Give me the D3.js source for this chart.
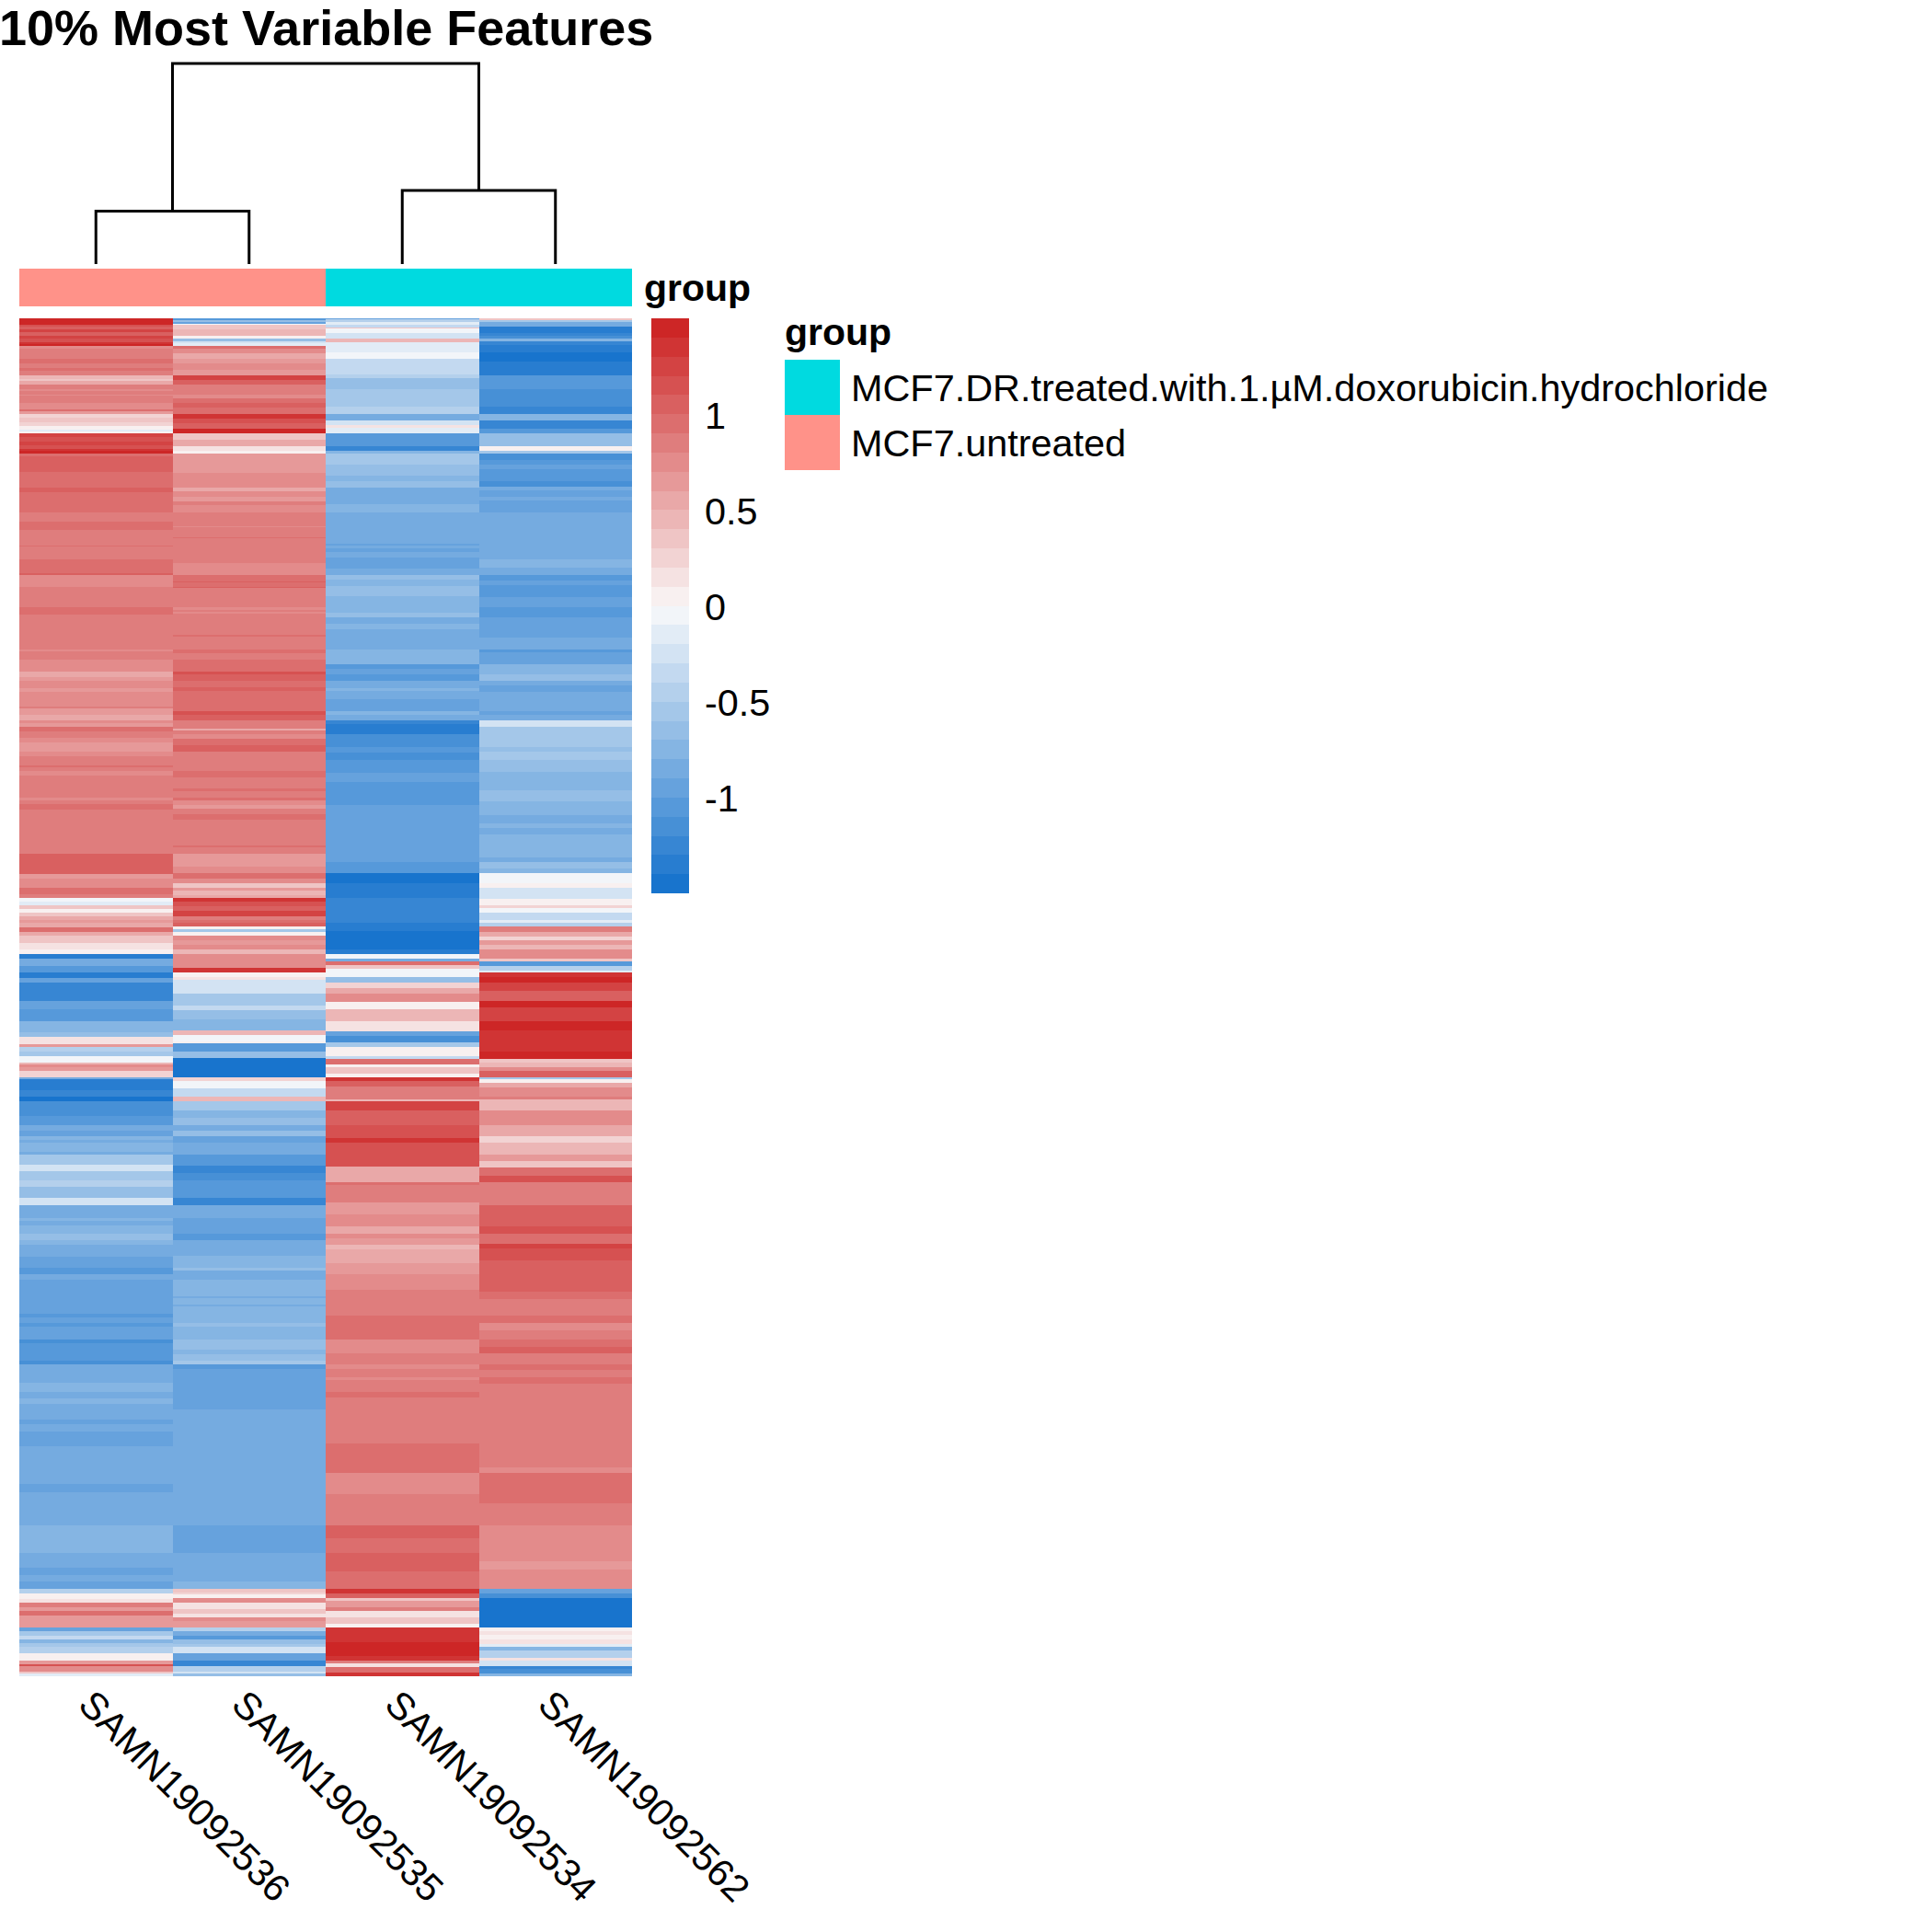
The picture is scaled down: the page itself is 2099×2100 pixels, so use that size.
<!DOCTYPE html>
<html lang="en">

<head>
    <meta charset="UTF-8" />
    <title>10% Most Variable Features</title>
    <script src="https://d3js.org/d3.v7.min.js"></script>
    <style>
        body {
            margin: 0;
            background: white;
            font-family: 'Liberation Sans';
            overflow: hidden;
        }

        text {
            fill: black;
        }
    </style>
</head>

<body>
<svg></svg>
<script>
    const samples = ["SAMN19092536", "SAMN19092535", "SAMN19092534", "SAMN19092562"];
    const sampleGroups = ["MCF7.untreated", "MCF7.untreated",
        "MCF7.DR.treated.with.1.µM.doxorubicin.hydrochloride", "MCF7.DR.treated.with.1.µM.doxorubicin.hydrochloride"];
    const groupNames = ["MCF7.DR.treated.with.1.µM.doxorubicin.hydrochloride", "MCF7.untreated"];
    const groupColors = ["#00DAE0", "#FF9289"];
    const colorTicks = [1, 0.5, 0, -0.5, -1];
    const rowCount = 1476;

    // dendrogram merge heights, relative to the root
    const leftMerge = 0.264;
    const rightMerge = 0.367;
    const rootMerge = 1;

    // each column is run-length coded: [last row of the run, z score x 10]
    const col536 = [[7,14],[9,11],[12,10],[15,12],[19,10],[22,12],[26,11],[28,13],[30,14],[33,7],[44,8],[49,9],[54,8],[57,9],[62,8],
        [66,4],[68,3],[72,5],[77,8],[79,7],[83,8],[84,7],[92,8],[99,7],[101,9],[104,6],[108,2],[113,3],[117,2],[121,0],[123,-2],[125,0],
        [129,12],[134,11],[138,12],[142,11],[144,13],[147,14],[150,9],[154,10],[164,10],[167,10],[184,9],[189,10],[211,9],[221,8],[230,9],
        [247,8],[248,9],[262,8],[277,9],[279,10],[292,7],[314,8],[322,9],[360,8],[362,7],[371,8],[384,7],[390,5],[394,6],[402,7],[406,6],[414,7],
        [422,7],[424,8],[431,6],[437,5],[440,7],[444,6],[449,9],[456,8],[461,7],[471,6],[476,7],[486,8],[488,9],[492,8],[497,7],[521,8],[524,7],
        [528,8],[534,9],[539,8],[582,8],[604,10],[609,6],[614,7],[619,7],[626,9],[630,8],[634,-1],[638,-2],[642,3],[646,0],[650,3],[654,5],
        [657,6],[662,5],[667,9],[671,5],[679,3],[686,1],[691,0],[696,-14],[704,-9],[711,-11],[717,-14],[722,-10],[742,-13],[751,-10],[764,-11],
        [776,-8],[781,-7],[789,1],[792,6],[797,-5],[802,-6],[809,-1],[811,4],[814,7],[818,6],[825,2],[827,-9],[839,-14],[846,-13],[851,-15],
        [867,-12],[877,-11],[883,-9],[889,-10],[893,-8],[896,-9],[906,-8],[909,-9],[920,-6],[927,-3],[937,-6],[944,-5],[956,-7],[964,-3],[974,-9],
        [978,-9],[981,-8],[986,-9],[995,-8],[1002,-7],[1007,-8],[1020,-9],[1032,-10],[1039,-11],[1045,-9],[1082,-10],[1086,-11],[1092,-10],
        [1096,-11],[1110,-10],[1114,-12],[1133,-11],[1137,-12],[1157,-9],[1167,-8],[1174,-9],[1180,-8],[1197,-9],[1202,-10],[1210,-9],[1226,-10],
        [1267,-9],[1276,-10],[1312,-9],[1342,-8],[1358,-9],[1366,-10],[1373,-9],[1381,-10],[1386,-5],[1392,0],[1396,1],[1401,8],[1405,6],[1410,9],
        [1423,6],[1427,-10],[1432,-6],[1436,-4],[1440,-8],[1444,-6],[1451,-5],[1459,0],[1463,6],[1465,11],[1471,7],[1473,3],[1476,-2]];

    const col535 = [[2,-11],[4,-7],[6,-10],[7,-1],[12,3],[19,4],[22,0],[25,-7],[27,-3],[30,-2],[33,9],[38,7],[44,5],[49,6],[56,7],[62,6],
        [67,12],[72,10],[83,8],[87,7],[92,9],[97,10],[104,9],[109,13],[114,11],[120,10],[125,14],[132,3],[139,5],[144,1],[147,0],[164,6],
        [168,6],[176,7],[184,7],[188,5],[194,7],[199,6],[203,8],[211,7],[226,8],[227,7],[238,8],[239,9],[266,8],[279,7],[286,9],[287,10],[292,9],
        [293,10],[314,8],[317,7],[319,8],[321,7],[344,8],[346,9],[360,8],[364,9],[371,8],[384,9],[387,11],[394,10],[401,9],[405,10],[427,9],
        [431,11],[437,10],[446,8],[448,5],[452,8],[457,7],[464,9],[471,10],[492,8],[499,9],[511,8],[514,9],[521,8],[524,9],[529,7],[533,6],
        [539,8],[545,9],[573,8],[575,9],[582,8],[586,6],[596,6],[603,7],[609,9],[614,7],[619,3],[622,6],[627,4],[630,5],[634,13],[639,11],
        [644,10],[650,12],[654,8],[657,9],[661,10],[664,0],[667,-6],[671,0],[676,7],[681,6],[686,7],[691,4],[706,7],[711,13],[716,0],[719,1],
        [734,-3],[747,-6],[752,-4],[762,-7],[774,-8],[779,4],[786,-1],[788,0],[797,-11],[804,-7],[825,-15],[829,2],[837,-1],[846,-4],[851,4],
        [861,-6],[869,-8],[877,-7],[883,-9],[889,-7],[896,-10],[909,-9],[921,-11],[929,-13],[937,-12],[956,-11],[964,-13],[978,-9],[995,-10],
        [1002,-11],[1019,-9],[1032,-8],[1035,-7],[1045,-9],[1063,-8],[1065,-9],[1072,-8],[1074,-9],[1092,-8],[1096,-7],[1110,-8],[1121,-7],
        [1126,-8],[1133,-7],[1137,-6],[1142,-11],[1186,-10],[1312,-9],[1342,-10],[1373,-9],[1381,-8],[1385,3],[1387,2],[1391,0],[1396,7],
        [1403,1],[1408,3],[1412,1],[1416,7],[1423,6],[1427,-5],[1432,-9],[1436,-11],[1441,-7],[1444,-6],[1451,-3],[1459,-10],[1465,-13],
        [1471,-5],[1473,-3],[1476,-7]];

    const col534 = [[1,-10],[4,-5],[7,-2],[10,-4],[11,3],[16,-1],[22,-3],[26,4],[37,-2],[44,-1],[61,-4],[65,-5],[77,-7],[96,-6],[104,-5],
        [111,-9],[116,-3],[119,1],[125,-2],[139,-11],[144,-13],[147,-8],[159,-6],[171,-7],[177,-8],[184,-7],[202,-9],[211,-8],[245,-9],[247,-10],
        [250,-9],[254,-10],[260,-9],[272,-10],[279,-9],[284,-7],[291,-8],[302,-7],[320,-8],[325,-7],[332,-9],[338,-8],[360,-9],[376,-8],[381,-11],
        [387,-10],[394,-11],[402,-9],[405,-8],[414,-9],[427,-10],[431,-8],[437,-9],[441,-13],[452,-14],[466,-12],[472,-11],[480,-12],[494,-11],
        [504,-10],[529,-11],[591,-10],[603,-11],[614,-15],[630,-14],[657,-13],[666,-14],[686,-15],[691,-14],[696,-1],[699,-9],[703,9],[707,3],
        [716,-1],[722,-7],[728,2],[734,5],[743,7],[751,0],[764,4],[775,1],[780,-10],[787,-12],[792,-6],[802,0],[805,-4],[811,9],[814,0],[821,3],
        [825,0],[829,13],[835,10],[849,8],[851,4],[861,12],[877,10],[891,11],[896,13],[922,11],[939,5],[942,9],[961,8],[974,6],[987,7],[995,5],
        [1000,7],[1007,6],[1012,4],[1027,5],[1039,6],[1056,7],[1084,8],[1106,9],[1110,9],[1125,7],[1137,8],[1142,7],[1151,8],[1154,7],[1167,8],
        [1173,9],[1223,8],[1255,9],[1278,7],[1312,8],[1326,10],[1342,9],[1362,10],[1381,9],[1386,13],[1391,10],[1394,3],[1401,6],[1405,8],[1412,1],[1419,3],
        [1423,0],[1439,13],[1454,14],[1459,13],[1462,8],[1466,1],[1472,9],[1476,13]];

    const col562 = [[2,3],[4,-6],[9,-9],[16,-14],[19,-13],[22,-12],[25,-8],[29,-13],[37,-14],[47,-15],[62,-14],[77,-11],[96,-12],[104,-13],
        [111,-8],[120,-13],[125,-11],[139,-7],[144,0],[147,-6],[154,-12],[159,-11],[164,-10],[177,-11],[183,-12],[187,-9],[194,-10],[198,-9],
        [211,-10],[262,-9],[271,-8],[279,-9],[285,-11],[290,-10],[303,-11],[314,-10],[325,-11],[347,-10],[360,-9],[363,-11],[376,-10],[387,-8],
        [394,-7],[399,-9],[406,-10],[427,-9],[431,-10],[437,-9],[444,-3],[466,-6],[471,-7],[480,-6],[493,-7],[513,-8],[525,-7],[540,-8],[549,-9],
        [554,-8],[561,-9],[586,-8],[591,-9],[598,-7],[603,-8],[614,-1],[619,0],[631,-3],[638,0],[641,2],[646,-1],[654,-4],[657,-2],[661,-5],
        [667,8],[672,5],[676,2],[681,6],[686,4],[696,7],[699,3],[704,-11],[709,-5],[711,-2],[716,13],[722,14],[731,12],[742,10],[749,14],[764,12],
        [774,14],[797,13],[805,14],[809,3],[814,4],[818,7],[825,10],[827,-6],[831,0],[836,5],[846,7],[849,8],[861,4],[877,7],[889,5],[896,2],
        [909,4],[916,6],[923,3],[932,9],[939,11],[964,8],[987,10],[995,11],[1006,9],[1011,12],[1024,11],[1058,10],[1066,9],[1084,8],[1092,9],
        [1100,7],[1110,8],[1118,9],[1125,10],[1137,8],[1143,9],[1151,8],[1158,9],[1249,8],[1255,7],[1288,9],[1312,8],[1351,7],[1360,6],[1381,7],
        [1386,-10],[1391,-12],[1423,-15],[1427,0],[1431,1],[1436,0],[1441,1],[1444,-2],[1448,-8],[1456,-5],[1459,1],[1465,-3],[1468,-13],[1473,-12],[1476,-8]];

    const columns = [col536, col535, col534, col562];

    const svg = d3.select("svg")
        .attr("width", 2099)
        .attr("height", 2100);

    const x = d3.scaleBand().domain(samples).range([21, 687]);
    const rowY = d3.scaleLinear().domain([0, rowCount]).range([346, 1822]);

    // 30 steps, blue to near white to red
    const ramp = d3.scaleLinear().domain([0, 14, 15, 29]).range(["#1874CD", "#F2F5F9", "#F8F0F0", "#CD2626"]);
    const palette = d3.range(30).map(i => ramp(i));
    const heatColor = d3.scaleQuantize().domain([-15, 15]).range(palette);

    svg.append("text")
        .attr("x", -1)
        .attr("y", 49)
        .style("font-size", "54px")
        .style("font-weight", "bold")
        .text("10% Most Variable Features");

    // dendrogram
    const dendroY = d3.scaleLinear().domain([0, rootMerge]).range([287, 69]);
    const mid = (a, b) => (a + b) / 2;
    const cx = i => x(samples[i]) + x.bandwidth() / 2;

    function mergePath(xa, ha, xb, hb, h) {
        const p = d3.path();
        p.moveTo(xa, dendroY(ha));
        p.lineTo(xa, dendroY(h));
        p.lineTo(xb, dendroY(h));
        p.lineTo(xb, dendroY(hb));
        return p.toString();
    }

    const merges = [
        mergePath(cx(0), 0, cx(1), 0, leftMerge),
        mergePath(cx(2), 0, cx(3), 0, rightMerge),
        mergePath(mid(cx(0), cx(1)), leftMerge, mid(cx(2), cx(3)), rightMerge, rootMerge)
    ];

    svg.append("g").selectAll("path")
        .data(merges)
        .enter().append("path")
        .attr("d", d => d)
        .attr("fill", "none")
        .attr("stroke", "black")
        .attr("stroke-width", 3);

    // annotation bar
    const groupColor = d3.scaleOrdinal().domain(groupNames).range(groupColors);

    svg.append("g").selectAll("rect")
        .data(samples)
        .enter().append("rect")
        .attr("x", d => x(d))
        .attr("y", 292)
        .attr("width", x.bandwidth())
        .attr("height", 41)
        .attr("fill", (d, i) => groupColor(sampleGroups[i]))
        .attr("shape-rendering", "crispEdges");

    svg.append("text")
        .attr("x", 700)
        .attr("y", 327)
        .style("font-size", "41px")
        .style("font-weight", "bold")
        .text("group");

    // heatmap
    const heat = svg.append("g").attr("shape-rendering", "crispEdges");

    columns.forEach((runs, c) => {
        heat.append("g").selectAll("rect")
            .data(runs)
            .enter().append("rect")
            .attr("x", x(samples[c]))
            .attr("y", (d, i) => rowY(i ? runs[i - 1][0] : 0))
            .attr("width", x.bandwidth())
            .attr("height", (d, i) => rowY(d[0]) - rowY(i ? runs[i - 1][0] : 0))
            .attr("fill", d => heatColor(d[1]));
    });

    svg.append("g").selectAll("text")
        .data(samples)
        .enter().append("text")
        .attr("transform", d => `translate(${x(d) + x.bandwidth() / 2 - 21},1855) rotate(45)`)
        .style("font-size", "41.4px")
        .text(d => d);

    // colour key
    const keyY = d3.scaleLinear().domain([-1.5, 1.5]).range([971, 346]);
    const keyStep = d3.range(30);

    svg.append("g").attr("shape-rendering", "crispEdges").selectAll("rect")
        .data(keyStep)
        .enter().append("rect")
        .attr("x", 708)
        .attr("y", d => keyY((d + 1) / 10 - 1.5))
        .attr("width", 41)
        .attr("height", d => keyY(d / 10 - 1.5) - keyY((d + 1) / 10 - 1.5))
        .attr("fill", d => palette[d]);

    const keyAxis = d3.axisRight(keyY)
        .tickValues(colorTicks)
        .tickFormat(String)
        .tickSize(0)
        .tickPadding(17);

    const keyAxisG = svg.append("g")
        .attr("transform", "translate(749,0)")
        .call(keyAxis);

    keyAxisG.select(".domain").remove();
    keyAxisG.selectAll("text")
        .attr("dy", "0.36em")
        .style("font-family", "'Liberation Sans'")
        .style("font-size", "41.4px");

    // group legend
    const legendY = d3.scaleBand().domain(groupNames).range([391, 511]);

    svg.append("text")
        .attr("x", 853)
        .attr("y", 375)
        .style("font-size", "41px")
        .style("font-weight", "bold")
        .text("group");

    const legend = svg.append("g").selectAll("g")
        .data(groupNames)
        .enter().append("g");

    legend.append("rect")
        .attr("x", 853)
        .attr("y", d => legendY(d))
        .attr("width", 60)
        .attr("height", legendY.bandwidth())
        .attr("fill", d => groupColor(d))
        .attr("shape-rendering", "crispEdges");

    legend.append("text")
        .attr("x", 925)
        .attr("y", d => legendY(d) + legendY.bandwidth() / 2 + 15)
        .style("font-size", "41.4px")
        .text(d => d);
</script>
</body>

</html>
